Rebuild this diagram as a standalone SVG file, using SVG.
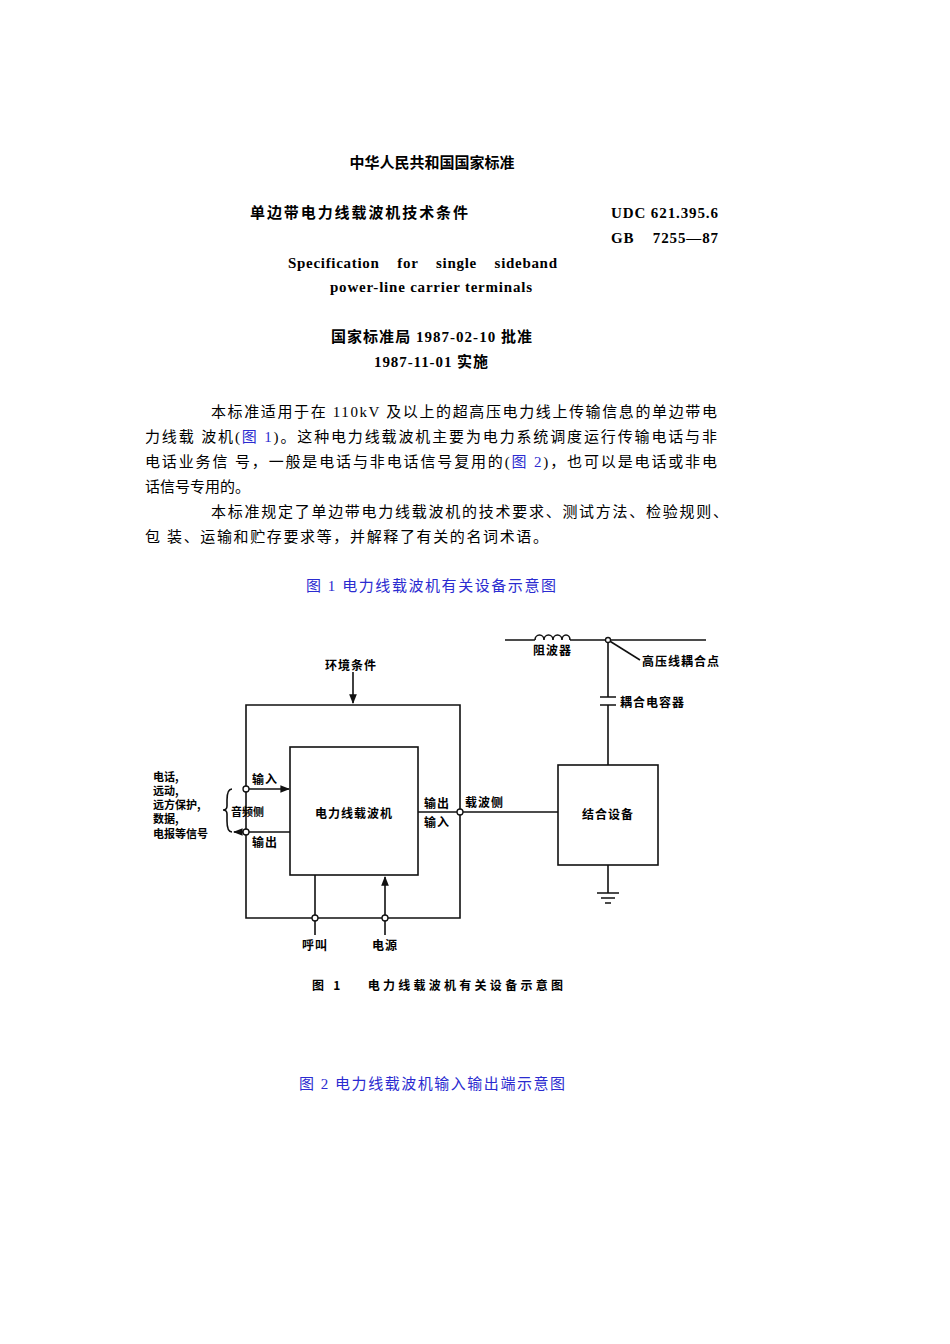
<svg xmlns="http://www.w3.org/2000/svg" width="950" height="1344" viewBox="0 0 950 1344">
<style>
text{font-family:"Liberation Serif","Noto Sans CJK SC",serif;font-size:15px;fill:#000}
.b{font-weight:bold}
.blue{fill:#2b2bd0}
.d{font-family:"Noto Sans CJK SC",sans-serif;font-size:12px;font-weight:bold;letter-spacing:1px}
.s{font-family:"Noto Sans CJK SC",sans-serif;font-size:11px;font-weight:bold}
.l{stroke:#111;stroke-width:1.6;fill:none}
.c{fill:#fff;stroke:#111;stroke-width:1.3}
</style>
<defs><marker id="a" viewBox="0 0 10 10" refX="9" refY="5" markerWidth="6" markerHeight="6" orient="auto"><path d="M0,1L10,5L0,9z" fill="#111"/></marker></defs>
<rect width="950" height="1344" fill="#fff"/>
<g id="header">
<text class="b" x="432" y="168" text-anchor="middle">中华人民共和国国家标准</text>
<text class="b" x="250" y="218" textLength="218">单边带电力线载波机技术条件</text>
<text class="b" x="611" y="218" textLength="107">UDC 621.395.6</text>
<text class="b" x="611" y="243" textLength="107" xml:space="preserve">GB    7255—87</text>
<text class="b" x="288" y="268" textLength="269" xml:space="preserve">Specification    for    single    sideband</text>
<text class="b" x="330" y="292" textLength="202">power-line carrier terminals</text>
<text class="b" x="331" y="342" textLength="201">国家标准局 1987-02-10 批准</text>
<text class="b" x="374" y="367" textLength="114">1987-11-01 实施</text>
<text x="211" y="417" textLength="506">本标准适用于在 110kV 及以上的超高压电力线上传输信息的单边带电</text>
<text x="145" y="442" textLength="572">力线载  波机(<tspan class="blue">图 1</tspan>)。这种电力线载波机主要为电力系统调度运行传输电话与非</text>
<text x="145" y="467" textLength="572">电话业务信   号，一般是电话与非电话信号复用的(<tspan class="blue">图 2</tspan>)，也可以是电话或非电</text>
<text x="145" y="492">话信号专用的。</text>
<text x="211" y="517" textLength="517">本标准规定了单边带电力线载波机的技术要求、测试方法、检验规则、</text>
<text x="145" y="542" textLength="403">包  装、运输和贮存要求等，并解释了有关的名词术语。</text>
<text class="blue" x="306" y="591" textLength="250">图 1 电力线载波机有关设备示意图</text>
<text class="blue" x="299" y="1089" textLength="266">图 2 电力线载波机输入输出端示意图</text>
</g>
<g id="connectors">
<path class="l" d="M246,705H460V918H246Z"/>
<path class="l" d="M353,672V703" marker-end="url(#a)"/>
<path class="l" d="M246,789H289" marker-end="url(#a)"/>
<path class="l" d="M290,832H234" marker-end="url(#a)"/>
<path class="l" d="M232,789Q227,789 227,800V806Q227,810 223,810Q227,810 227,814V821Q227,832 232,832"/>
<path class="l" d="M418,812H558"/>
<path class="l" d="M315,875V935"/>
<path class="l" d="M385,935V877" marker-end="url(#a)"/>
<path class="l" d="M505,640H535M570,640H706"/>
<path class="l" d="M535,640a4.5,5 0 0 1 9,0a4.5,5 0 0 1 9,0a4.5,5 0 0 1 9,0a4,5 0 0 1 8,0"/>
<path class="l" d="M608,640V697M608,705V765M600,697H616M600,705H616"/>
<path class="l" d="M608,640L640,660"/>
<path class="l" d="M608,865V893M597,893H619M601,898H615M605,903H611"/>
<circle class="c" cx="246" cy="789" r="3"/>
<circle class="c" cx="246" cy="832" r="3"/>
<circle class="c" cx="460" cy="812" r="3"/>
<circle class="c" cx="315" cy="918" r="3"/>
<circle class="c" cx="385" cy="918" r="3"/>
<circle class="c" cx="608" cy="640" r="2.5"/>
</g>
<g id="carrier"><rect x="290" y="747" width="128" height="128" class="l"/><text class="d" x="354" y="818" text-anchor="middle">电力线载波机</text></g>
<g id="coupler"><rect x="558" y="765" width="100" height="100" class="l"/><text class="d" x="608" y="819" text-anchor="middle">结合设备</text></g>
<g id="labels">
<text class="d" x="325" y="670">环境条件</text>
<text class="d" x="252" y="784">输入</text>
<text class="d" x="252" y="847">输出</text>
<text class="s" x="231" y="816">音频侧</text>
<text class="s" x="153" y="781">电话,</text>
<text class="s" x="153" y="795">远动,</text>
<text class="s" x="153" y="809">远方保护,</text>
<text class="s" x="153" y="823">数据,</text>
<text class="s" x="153" y="838">电报等信号</text>
<text class="d" x="424" y="808">输出</text>
<text class="d" x="424" y="827">输入</text>
<text class="d" x="465" y="807">载波侧</text>
<text class="d" x="533" y="655">阻波器</text>
<text class="d" x="642" y="666">高压线耦合点</text>
<text class="d" x="620" y="707">耦合电容器</text>
<text class="d" x="302" y="950">呼叫</text>
<text class="d" x="372" y="950">电源</text>
<text class="d" x="312" y="990" font-size="14" textLength="252" xml:space="preserve">图 1    电力线载波机有关设备示意图</text>
</g>
</svg>
